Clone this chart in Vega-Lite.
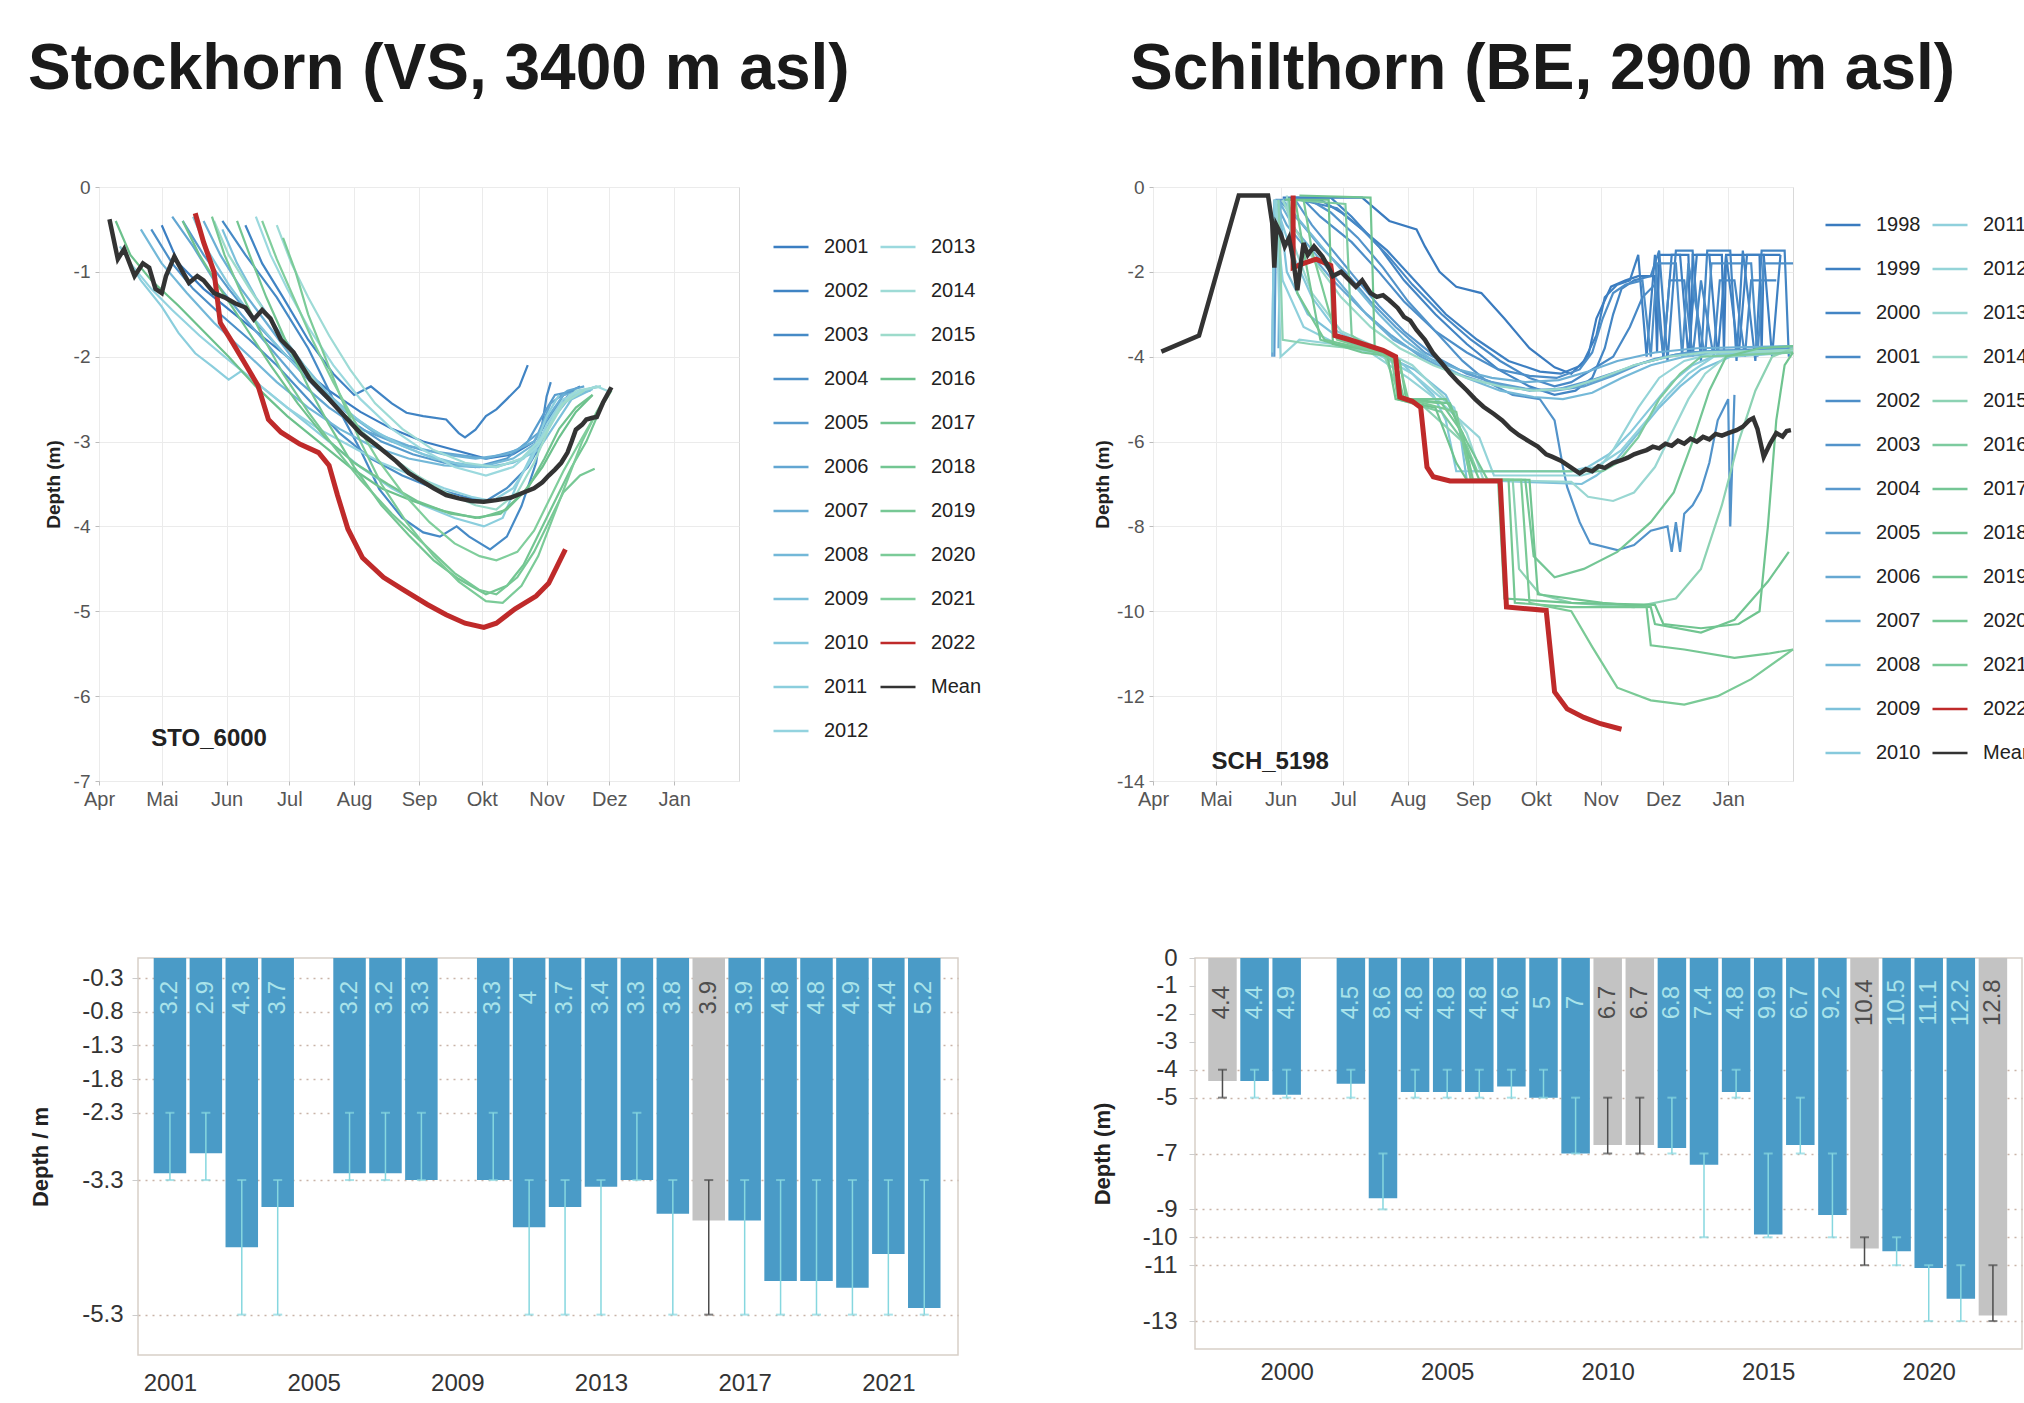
{
"$schema": "https://vega.github.io/schema/vega-lite/v6.json",
"autosize": {"type": "none"},
"padding": {"left": 99, "top": 187, "right": 1925, "bottom": 1216},
"background": "white",
"config": {"font": "Liberation Sans", "axis": {"labelOverlap": false}},
"spacing": 135,
"datasets": {
"sto": [
{"s":"2001","d":30,"v":-0.45},{"s":"2001","d":38,"v":-0.9},{"s":"2001","d":50,"v":-1.2},{"s":"2001","d":65,"v":-1.5},{"s":"2001","d":80,"v":-1.8},{"s":"2001","d":95,"v":-2.1},{"s":"2001","d":110,"v":-2.4},{"s":"2001","d":125,"v":-2.65},{"s":"2001","d":140,"v":-2.85},{"s":"2001","d":155,"v":-3.0},{"s":"2001","d":170,"v":-3.1},{"s":"2001","d":185,"v":-3.2},{"s":"2001","d":198,"v":-3.15},{"s":"2001","d":208,"v":-3.0},{"s":"2001","d":216,"v":-2.7},{"s":"2001","d":222,"v":-2.45},{"s":"2001","d":230,"v":-2.35},
{"s":"2002","d":70,"v":-0.45},{"s":"2002","d":78,"v":-0.9},{"s":"2002","d":88,"v":-1.3},{"s":"2002","d":100,"v":-1.8},{"s":"2002","d":112,"v":-2.2},{"s":"2002","d":122,"v":-2.45},{"s":"2002","d":130,"v":-2.35},{"s":"2002","d":140,"v":-2.55},{"s":"2002","d":147,"v":-2.66},{"s":"2002","d":155,"v":-2.7},{"s":"2002","d":166,"v":-2.74},{"s":"2002","d":172,"v":-2.9},{"s":"2002","d":175,"v":-2.95},{"s":"2002","d":180,"v":-2.86},{"s":"2002","d":185,"v":-2.7},{"s":"2002","d":190,"v":-2.62},{"s":"2002","d":195,"v":-2.5},{"s":"2002","d":201,"v":-2.35},{"s":"2002","d":205,"v":-2.1},
{"s":"2003","d":59,"v":-0.4},{"s":"2003","d":70,"v":-0.8},{"s":"2003","d":85,"v":-1.3},{"s":"2003","d":100,"v":-1.9},{"s":"2003","d":112,"v":-2.5},{"s":"2003","d":125,"v":-3.1},{"s":"2003","d":134,"v":-3.56},{"s":"2003","d":145,"v":-3.9},{"s":"2003","d":155,"v":-4.07},{"s":"2003","d":163,"v":-4.12},{"s":"2003","d":171,"v":-4.0},{"s":"2003","d":177,"v":-4.12},{"s":"2003","d":187,"v":-4.27},{"s":"2003","d":195,"v":-4.12},{"s":"2003","d":202,"v":-3.76},{"s":"2003","d":209,"v":-3.25},{"s":"2003","d":214,"v":-2.47},{"s":"2003","d":216,"v":-2.3},
{"s":"2004","d":25,"v":-0.5},{"s":"2004","d":35,"v":-0.9},{"s":"2004","d":45,"v":-1.2},{"s":"2004","d":58,"v":-1.5},{"s":"2004","d":72,"v":-1.8},{"s":"2004","d":85,"v":-2.1},{"s":"2004","d":100,"v":-2.5},{"s":"2004","d":115,"v":-2.9},{"s":"2004","d":130,"v":-3.2},{"s":"2004","d":145,"v":-3.4},{"s":"2004","d":160,"v":-3.55},{"s":"2004","d":175,"v":-3.65},{"s":"2004","d":185,"v":-3.7},{"s":"2004","d":195,"v":-3.55},{"s":"2004","d":205,"v":-3.3},{"s":"2004","d":212,"v":-3.0},{"s":"2004","d":218,"v":-2.6},{"s":"2004","d":225,"v":-2.45},
{"s":"2005","d":40,"v":-0.4},{"s":"2005","d":50,"v":-0.8},{"s":"2005","d":62,"v":-1.2},{"s":"2005","d":75,"v":-1.6},{"s":"2005","d":90,"v":-2.0},{"s":"2005","d":105,"v":-2.4},{"s":"2005","d":120,"v":-2.75},{"s":"2005","d":135,"v":-3.0},{"s":"2005","d":150,"v":-3.15},{"s":"2005","d":165,"v":-3.25},{"s":"2005","d":180,"v":-3.3},{"s":"2005","d":195,"v":-3.2},{"s":"2005","d":205,"v":-3.0},{"s":"2005","d":212,"v":-2.7},{"s":"2005","d":218,"v":-2.45},{"s":"2005","d":228,"v":-2.4},
{"s":"2006","d":35,"v":-0.35},{"s":"2006","d":45,"v":-0.7},{"s":"2006","d":55,"v":-1.1},{"s":"2006","d":68,"v":-1.5},{"s":"2006","d":82,"v":-1.9},{"s":"2006","d":96,"v":-2.3},{"s":"2006","d":110,"v":-2.6},{"s":"2006","d":125,"v":-2.85},{"s":"2006","d":140,"v":-3.0},{"s":"2006","d":155,"v":-3.1},{"s":"2006","d":170,"v":-3.15},{"s":"2006","d":185,"v":-3.2},{"s":"2006","d":200,"v":-3.1},{"s":"2006","d":210,"v":-2.9},{"s":"2006","d":216,"v":-2.55},{"s":"2006","d":224,"v":-2.4},{"s":"2006","d":232,"v":-2.35},
{"s":"2007","d":50,"v":-0.4},{"s":"2007","d":58,"v":-0.8},{"s":"2007","d":68,"v":-1.2},{"s":"2007","d":80,"v":-1.6},{"s":"2007","d":92,"v":-2.0},{"s":"2007","d":105,"v":-2.35},{"s":"2007","d":118,"v":-2.65},{"s":"2007","d":132,"v":-2.9},{"s":"2007","d":148,"v":-3.05},{"s":"2007","d":165,"v":-3.15},{"s":"2007","d":180,"v":-3.2},{"s":"2007","d":195,"v":-3.15},{"s":"2007","d":208,"v":-3.0},{"s":"2007","d":215,"v":-2.7},{"s":"2007","d":222,"v":-2.45},{"s":"2007","d":235,"v":-2.4},
{"s":"2008","d":20,"v":-0.5},{"s":"2008","d":30,"v":-0.9},{"s":"2008","d":42,"v":-1.25},{"s":"2008","d":55,"v":-1.6},{"s":"2008","d":70,"v":-1.95},{"s":"2008","d":85,"v":-2.3},{"s":"2008","d":100,"v":-2.6},{"s":"2008","d":115,"v":-2.85},{"s":"2008","d":130,"v":-3.05},{"s":"2008","d":148,"v":-3.2},{"s":"2008","d":165,"v":-3.28},{"s":"2008","d":182,"v":-3.3},{"s":"2008","d":198,"v":-3.2},{"s":"2008","d":210,"v":-3.0},{"s":"2008","d":218,"v":-2.7},{"s":"2008","d":226,"v":-2.45},{"s":"2008","d":238,"v":-2.35},
{"s":"2009","d":59,"v":-0.5},{"s":"2009","d":66,"v":-0.9},{"s":"2009","d":75,"v":-1.3},{"s":"2009","d":86,"v":-1.7},{"s":"2009","d":98,"v":-2.1},{"s":"2009","d":110,"v":-2.45},{"s":"2009","d":124,"v":-2.75},{"s":"2009","d":140,"v":-3.0},{"s":"2009","d":155,"v":-3.15},{"s":"2009","d":170,"v":-3.25},{"s":"2009","d":185,"v":-3.3},{"s":"2009","d":198,"v":-3.25},{"s":"2009","d":210,"v":-3.1},{"s":"2009","d":218,"v":-2.8},{"s":"2009","d":226,"v":-2.5},{"s":"2009","d":236,"v":-2.38},
{"s":"2010","d":45,"v":-0.35},{"s":"2010","d":52,"v":-0.75},{"s":"2010","d":62,"v":-1.15},{"s":"2010","d":74,"v":-1.55},{"s":"2010","d":88,"v":-1.95},{"s":"2010","d":102,"v":-2.3},{"s":"2010","d":116,"v":-2.6},{"s":"2010","d":130,"v":-2.85},{"s":"2010","d":145,"v":-3.05},{"s":"2010","d":160,"v":-3.2},{"s":"2010","d":175,"v":-3.28},{"s":"2010","d":190,"v":-3.3},{"s":"2010","d":203,"v":-3.2},{"s":"2010","d":212,"v":-2.95},{"s":"2010","d":220,"v":-2.6},{"s":"2010","d":230,"v":-2.4},{"s":"2010","d":240,"v":-2.35},
{"s":"2011","d":10,"v":-0.7},{"s":"2011","d":20,"v":-1.1},{"s":"2011","d":30,"v":-1.41},{"s":"2011","d":38,"v":-1.72},{"s":"2011","d":46,"v":-1.96},{"s":"2011","d":54,"v":-2.11},{"s":"2011","d":62,"v":-2.27},{"s":"2011","d":68,"v":-2.17},{"s":"2011","d":80,"v":-2.4},{"s":"2011","d":95,"v":-2.7},{"s":"2011","d":110,"v":-3.0},{"s":"2011","d":125,"v":-3.3},{"s":"2011","d":140,"v":-3.55},{"s":"2011","d":155,"v":-3.75},{"s":"2011","d":170,"v":-3.9},{"s":"2011","d":184,"v":-4.0},{"s":"2011","d":193,"v":-3.9},{"s":"2011","d":200,"v":-3.5},{"s":"2011","d":208,"v":-3.1},{"s":"2011","d":214,"v":-2.7},{"s":"2011","d":220,"v":-2.45},
{"s":"2012","d":15,"v":-0.9},{"s":"2012","d":25,"v":-1.2},{"s":"2012","d":35,"v":-1.45},{"s":"2012","d":48,"v":-1.75},{"s":"2012","d":60,"v":-2.0},{"s":"2012","d":75,"v":-2.3},{"s":"2012","d":90,"v":-2.6},{"s":"2012","d":105,"v":-2.85},{"s":"2012","d":120,"v":-3.05},{"s":"2012","d":135,"v":-3.25},{"s":"2012","d":150,"v":-3.4},{"s":"2012","d":165,"v":-3.55},{"s":"2012","d":178,"v":-3.65},{"s":"2012","d":188,"v":-3.7},{"s":"2012","d":198,"v":-3.55},{"s":"2012","d":207,"v":-3.2},{"s":"2012","d":214,"v":-2.8},{"s":"2012","d":222,"v":-2.5},{"s":"2012","d":232,"v":-2.4},
{"s":"2013","d":75,"v":-0.35},{"s":"2013","d":82,"v":-0.8},{"s":"2013","d":90,"v":-1.2},{"s":"2013","d":100,"v":-1.65},{"s":"2013","d":112,"v":-2.1},{"s":"2013","d":125,"v":-2.5},{"s":"2013","d":140,"v":-2.85},{"s":"2013","d":155,"v":-3.1},{"s":"2013","d":170,"v":-3.3},{"s":"2013","d":185,"v":-3.4},{"s":"2013","d":198,"v":-3.3},{"s":"2013","d":210,"v":-3.05},{"s":"2013","d":218,"v":-2.7},{"s":"2013","d":225,"v":-2.45},{"s":"2013","d":238,"v":-2.35},{"s":"2013","d":243,"v":-2.4},
{"s":"2014","d":85,"v":-0.45},{"s":"2014","d":92,"v":-0.9},{"s":"2014","d":100,"v":-1.3},{"s":"2014","d":110,"v":-1.75},{"s":"2014","d":120,"v":-2.15},{"s":"2014","d":132,"v":-2.55},{"s":"2014","d":145,"v":-2.85},{"s":"2014","d":160,"v":-3.1},{"s":"2014","d":175,"v":-3.25},{"s":"2014","d":190,"v":-3.3},{"s":"2014","d":202,"v":-3.2},{"s":"2014","d":212,"v":-2.95},{"s":"2014","d":220,"v":-2.6},{"s":"2014","d":228,"v":-2.4},{"s":"2014","d":240,"v":-2.35},
{"s":"2015","d":55,"v":-0.4},{"s":"2015","d":62,"v":-0.8},{"s":"2015","d":72,"v":-1.2},{"s":"2015","d":84,"v":-1.65},{"s":"2015","d":96,"v":-2.05},{"s":"2015","d":108,"v":-2.45},{"s":"2015","d":122,"v":-2.8},{"s":"2015","d":138,"v":-3.15},{"s":"2015","d":152,"v":-3.4},{"s":"2015","d":166,"v":-3.6},{"s":"2015","d":180,"v":-3.75},{"s":"2015","d":190,"v":-3.8},{"s":"2015","d":200,"v":-3.6},{"s":"2015","d":208,"v":-3.25},{"s":"2015","d":215,"v":-2.85},{"s":"2015","d":222,"v":-2.55},{"s":"2015","d":232,"v":-2.4},
{"s":"2016","d":8,"v":-0.4},{"s":"2016","d":15,"v":-0.8},{"s":"2016","d":25,"v":-1.1},{"s":"2016","d":38,"v":-1.4},{"s":"2016","d":50,"v":-1.7},{"s":"2016","d":62,"v":-2.0},{"s":"2016","d":75,"v":-2.35},{"s":"2016","d":90,"v":-2.7},{"s":"2016","d":105,"v":-3.0},{"s":"2016","d":120,"v":-3.3},{"s":"2016","d":135,"v":-3.55},{"s":"2016","d":150,"v":-3.7},{"s":"2016","d":165,"v":-3.82},{"s":"2016","d":180,"v":-3.9},{"s":"2016","d":192,"v":-3.85},{"s":"2016","d":203,"v":-3.6},{"s":"2016","d":212,"v":-3.3},{"s":"2016","d":220,"v":-2.95},{"s":"2016","d":228,"v":-2.65},{"s":"2016","d":236,"v":-2.45},
{"s":"2017","d":40,"v":-0.4},{"s":"2017","d":48,"v":-0.8},{"s":"2017","d":58,"v":-1.2},{"s":"2017","d":70,"v":-1.65},{"s":"2017","d":82,"v":-2.1},{"s":"2017","d":95,"v":-2.55},{"s":"2017","d":108,"v":-2.95},{"s":"2017","d":122,"v":-3.25},{"s":"2017","d":138,"v":-3.5},{"s":"2017","d":152,"v":-3.7},{"s":"2017","d":168,"v":-3.85},{"s":"2017","d":182,"v":-3.9},{"s":"2017","d":195,"v":-3.8},{"s":"2017","d":205,"v":-3.55},{"s":"2017","d":213,"v":-3.2},{"s":"2017","d":220,"v":-2.85},{"s":"2017","d":228,"v":-2.6},{"s":"2017","d":236,"v":-2.45},
{"s":"2018","d":66,"v":-0.4},{"s":"2018","d":72,"v":-0.8},{"s":"2018","d":80,"v":-1.3},{"s":"2018","d":90,"v":-1.85},{"s":"2018","d":100,"v":-2.35},{"s":"2018","d":110,"v":-2.8},{"s":"2018","d":122,"v":-3.3},{"s":"2018","d":135,"v":-3.75},{"s":"2018","d":148,"v":-4.1},{"s":"2018","d":160,"v":-4.4},{"s":"2018","d":172,"v":-4.62},{"s":"2018","d":185,"v":-4.8},{"s":"2018","d":195,"v":-4.7},{"s":"2018","d":203,"v":-4.45},{"s":"2018","d":210,"v":-4.1},{"s":"2018","d":218,"v":-3.7},{"s":"2018","d":226,"v":-3.3},{"s":"2018","d":233,"v":-3.0},{"s":"2018","d":240,"v":-2.6},{"s":"2018","d":245,"v":-2.4},
{"s":"2019","d":54,"v":-0.35},{"s":"2019","d":60,"v":-0.8},{"s":"2019","d":68,"v":-1.25},{"s":"2019","d":78,"v":-1.75},{"s":"2019","d":88,"v":-2.2},{"s":"2019","d":100,"v":-2.65},{"s":"2019","d":112,"v":-3.05},{"s":"2019","d":125,"v":-3.45},{"s":"2019","d":140,"v":-3.85},{"s":"2019","d":155,"v":-4.2},{"s":"2019","d":170,"v":-4.55},{"s":"2019","d":182,"v":-4.75},{"s":"2019","d":190,"v":-4.8},{"s":"2019","d":200,"v":-4.6},{"s":"2019","d":208,"v":-4.3},{"s":"2019","d":215,"v":-3.95},{"s":"2019","d":222,"v":-3.6},{"s":"2019","d":230,"v":-3.4},{"s":"2019","d":237,"v":-3.32},
{"s":"2020","d":88,"v":-0.6},{"s":"2020","d":94,"v":-1.0},{"s":"2020","d":100,"v":-1.5},{"s":"2020","d":108,"v":-2.0},{"s":"2020","d":116,"v":-2.5},{"s":"2020","d":125,"v":-3.0},{"s":"2020","d":135,"v":-3.5},{"s":"2020","d":147,"v":-3.95},{"s":"2020","d":160,"v":-4.35},{"s":"2020","d":172,"v":-4.65},{"s":"2020","d":185,"v":-4.88},{"s":"2020","d":193,"v":-4.9},{"s":"2020","d":202,"v":-4.7},{"s":"2020","d":210,"v":-4.35},{"s":"2020","d":217,"v":-3.9},{"s":"2020","d":224,"v":-3.45},{"s":"2020","d":231,"v":-3.0},{"s":"2020","d":238,"v":-2.65},{"s":"2020","d":244,"v":-2.4},
{"s":"2021","d":78,"v":-0.4},{"s":"2021","d":85,"v":-0.85},{"s":"2021","d":93,"v":-1.3},{"s":"2021","d":102,"v":-1.8},{"s":"2021","d":112,"v":-2.3},{"s":"2021","d":122,"v":-2.75},{"s":"2021","d":133,"v":-3.2},{"s":"2021","d":145,"v":-3.6},{"s":"2021","d":158,"v":-3.95},{"s":"2021","d":170,"v":-4.2},{"s":"2021","d":182,"v":-4.35},{"s":"2021","d":190,"v":-4.4},{"s":"2021","d":200,"v":-4.3},{"s":"2021","d":208,"v":-4.05},{"s":"2021","d":215,"v":-3.7},{"s":"2021","d":222,"v":-3.35},{"s":"2021","d":230,"v":-3.0},{"s":"2021","d":237,"v":-2.7},{"s":"2021","d":243,"v":-2.45},
{"s":"2022","d":46,"v":-0.31},{"s":"2022","d":50,"v":-0.65},{"s":"2022","d":55,"v":-1.0},{"s":"2022","d":58,"v":-1.6},{"s":"2022","d":64,"v":-1.84},{"s":"2022","d":70,"v":-2.09},{"s":"2022","d":76,"v":-2.34},{"s":"2022","d":81,"v":-2.74},{"s":"2022","d":87,"v":-2.89},{"s":"2022","d":96,"v":-3.03},{"s":"2022","d":105,"v":-3.13},{"s":"2022","d":110,"v":-3.28},{"s":"2022","d":114,"v":-3.63},{"s":"2022","d":119,"v":-4.03},{"s":"2022","d":126,"v":-4.37},{"s":"2022","d":136,"v":-4.6},{"s":"2022","d":145,"v":-4.74},{"s":"2022","d":157,"v":-4.92},{"s":"2022","d":166,"v":-5.04},{"s":"2022","d":175,"v":-5.14},{"s":"2022","d":184,"v":-5.19},{"s":"2022","d":190,"v":-5.14},{"s":"2022","d":199,"v":-4.97},{"s":"2022","d":209,"v":-4.82},{"s":"2022","d":215,"v":-4.67},{"s":"2022","d":219,"v":-4.47},{"s":"2022","d":223,"v":-4.27},
{"s":"Mean","d":5,"v":-0.38},{"s":"Mean","d":9,"v":-0.85},{"s":"Mean","d":12,"v":-0.73},{"s":"Mean","d":17,"v":-1.05},{"s":"Mean","d":21,"v":-0.9},{"s":"Mean","d":24,"v":-0.95},{"s":"Mean","d":27,"v":-1.2},{"s":"Mean","d":30,"v":-1.25},{"s":"Mean","d":32,"v":-1.05},{"s":"Mean","d":36,"v":-0.82},{"s":"Mean","d":40,"v":-1.0},{"s":"Mean","d":43,"v":-1.13},{"s":"Mean","d":47,"v":-1.05},{"s":"Mean","d":50,"v":-1.1},{"s":"Mean","d":55,"v":-1.25},{"s":"Mean","d":60,"v":-1.3},{"s":"Mean","d":65,"v":-1.37},{"s":"Mean","d":70,"v":-1.42},{"s":"Mean","d":74,"v":-1.56},{"s":"Mean","d":78,"v":-1.45},{"s":"Mean","d":82,"v":-1.55},{"s":"Mean","d":87,"v":-1.8},{"s":"Mean","d":93,"v":-1.95},{"s":"Mean","d":101,"v":-2.27},{"s":"Mean","d":110,"v":-2.5},{"s":"Mean","d":117,"v":-2.69},{"s":"Mean","d":125,"v":-2.9},{"s":"Mean","d":133,"v":-3.05},{"s":"Mean","d":142,"v":-3.23},{"s":"Mean","d":148,"v":-3.37},{"s":"Mean","d":154,"v":-3.46},{"s":"Mean","d":160,"v":-3.55},{"s":"Mean","d":166,"v":-3.63},{"s":"Mean","d":172,"v":-3.67},{"s":"Mean","d":178,"v":-3.7},{"s":"Mean","d":184,"v":-3.71},{"s":"Mean","d":190,"v":-3.69},{"s":"Mean","d":197,"v":-3.66},{"s":"Mean","d":203,"v":-3.6},{"s":"Mean","d":208,"v":-3.55},{"s":"Mean","d":212,"v":-3.48},{"s":"Mean","d":215,"v":-3.4},{"s":"Mean","d":218,"v":-3.33},{"s":"Mean","d":221,"v":-3.25},{"s":"Mean","d":224,"v":-3.13},{"s":"Mean","d":226,"v":-3.0},{"s":"Mean","d":228,"v":-2.86},{"s":"Mean","d":231,"v":-2.8},{"s":"Mean","d":233,"v":-2.74},{"s":"Mean","d":236,"v":-2.72},{"s":"Mean","d":238,"v":-2.71},{"s":"Mean","d":241,"v":-2.54},{"s":"Mean","d":243,"v":-2.45},{"s":"Mean","d":245,"v":-2.36}
],
"sch": [
{"s":"1998","d":62,"v":-0.25},{"s":"1998","d":100,"v":-0.25},{"s":"1998","d":113,"v":-0.8},{"s":"1998","d":126,"v":-1.0},{"s":"1998","d":130,"v":-1.4},{"s":"1998","d":137,"v":-2.0},{"s":"1998","d":145,"v":-2.35},{"s":"1998","d":157,"v":-2.5},{"s":"1998","d":168,"v":-3.1},{"s":"1998","d":180,"v":-3.8},{"s":"1998","d":192,"v":-4.25},{"s":"1998","d":200,"v":-4.4},{"s":"1998","d":208,"v":-4.0},{"s":"1998","d":212,"v":-3.1},{"s":"1998","d":219,"v":-2.35},{"s":"1998","d":226,"v":-2.2},{"s":"1998","d":232,"v":-2.1},{"s":"1998","d":240,"v":-2.1},{"s":"1998","d":241,"v":-3.9},{"s":"1998","d":242,"v":-1.6},{"s":"1998","d":256,"v":-1.6},{"s":"1998","d":257,"v":-3.9},{"s":"1998","d":258,"v":-1.6},{"s":"1998","d":272,"v":-1.6},{"s":"1998","d":273,"v":-3.9},{"s":"1998","d":274,"v":-1.6},{"s":"1998","d":290,"v":-1.6},{"s":"1998","d":291,"v":-3.9},{"s":"1998","d":292,"v":-1.6},{"s":"1998","d":300,"v":-1.6},
{"s":"1999","d":64,"v":-0.3},{"s":"1999","d":80,"v":-0.3},{"s":"1999","d":90,"v":-0.6},{"s":"1999","d":100,"v":-1.0},{"s":"1999","d":112,"v":-1.5},{"s":"1999","d":125,"v":-2.2},{"s":"1999","d":140,"v":-3.0},{"s":"1999","d":155,"v":-3.6},{"s":"1999","d":170,"v":-4.1},{"s":"1999","d":185,"v":-4.35},{"s":"1999","d":195,"v":-4.4},{"s":"1999","d":205,"v":-4.2},{"s":"1999","d":212,"v":-3.5},{"s":"1999","d":216,"v":-2.6},{"s":"1999","d":222,"v":-2.3},{"s":"1999","d":228,"v":-2.2},{"s":"1999","d":232,"v":-1.6},{"s":"1999","d":236,"v":-4.0},{"s":"1999","d":240,"v":-1.6},{"s":"1999","d":244,"v":-4.0},{"s":"1999","d":248,"v":-1.6},{"s":"1999","d":252,"v":-1.6},{"s":"1999","d":256,"v":-4.0},{"s":"1999","d":260,"v":-1.6},{"s":"1999","d":266,"v":-1.6},{"s":"1999","d":270,"v":-4.0},{"s":"1999","d":274,"v":-1.6},{"s":"1999","d":280,"v":-4.0},{"s":"1999","d":284,"v":-1.6},{"s":"1999","d":292,"v":-1.6},{"s":"1999","d":296,"v":-4.0},{"s":"1999","d":300,"v":-1.6},
{"s":"2000","d":66,"v":-0.25},{"s":"2000","d":85,"v":-0.25},{"s":"2000","d":95,"v":-0.7},{"s":"2000","d":108,"v":-1.4},{"s":"2000","d":120,"v":-2.2},{"s":"2000","d":135,"v":-3.0},{"s":"2000","d":150,"v":-3.7},{"s":"2000","d":165,"v":-4.3},{"s":"2000","d":180,"v":-4.7},{"s":"2000","d":192,"v":-4.9},{"s":"2000","d":202,"v":-4.8},{"s":"2000","d":210,"v":-4.5},{"s":"2000","d":216,"v":-3.8},{"s":"2000","d":220,"v":-3.0},{"s":"2000","d":224,"v":-2.4},{"s":"2000","d":230,"v":-2.2},{"s":"2000","d":238,"v":-2.1},{"s":"2000","d":242,"v":-1.5},{"s":"2000","d":246,"v":-4.1},{"s":"2000","d":250,"v":-1.5},{"s":"2000","d":258,"v":-1.5},{"s":"2000","d":262,"v":-4.1},{"s":"2000","d":265,"v":-1.5},{"s":"2000","d":276,"v":-1.5},{"s":"2000","d":279,"v":-4.1},{"s":"2000","d":282,"v":-1.5},{"s":"2000","d":288,"v":-4.1},{"s":"2000","d":291,"v":-1.5},{"s":"2000","d":302,"v":-1.5},{"s":"2000","d":304,"v":-4.0},
{"s":"2001","d":70,"v":-0.3},{"s":"2001","d":88,"v":-0.5},{"s":"2001","d":100,"v":-1.0},{"s":"2001","d":112,"v":-1.6},{"s":"2001","d":124,"v":-2.3},{"s":"2001","d":138,"v":-3.0},{"s":"2001","d":152,"v":-3.6},{"s":"2001","d":166,"v":-4.1},{"s":"2001","d":180,"v":-4.5},{"s":"2001","d":192,"v":-4.7},{"s":"2001","d":200,"v":-4.6},{"s":"2001","d":210,"v":-4.3},{"s":"2001","d":220,"v":-4.0},{"s":"2001","d":228,"v":-3.3},{"s":"2001","d":234,"v":-2.6},{"s":"2001","d":240,"v":-2.3},{"s":"2001","d":244,"v":-4.0},{"s":"2001","d":247,"v":-2.2},{"s":"2001","d":254,"v":-2.2},{"s":"2001","d":258,"v":-4.0},{"s":"2001","d":262,"v":-2.2},{"s":"2001","d":268,"v":-4.0},{"s":"2001","d":271,"v":-2.2},{"s":"2001","d":278,"v":-2.2},{"s":"2001","d":283,"v":-4.0},{"s":"2001","d":286,"v":-2.2},{"s":"2001","d":298,"v":-2.2},
{"s":"2002","d":62,"v":-0.3},{"s":"2002","d":72,"v":-0.3},{"s":"2002","d":80,"v":-0.7},{"s":"2002","d":95,"v":-1.3},{"s":"2002","d":108,"v":-2.0},{"s":"2002","d":120,"v":-2.7},{"s":"2002","d":135,"v":-3.4},{"s":"2002","d":150,"v":-3.9},{"s":"2002","d":165,"v":-4.3},{"s":"2002","d":180,"v":-4.45},{"s":"2002","d":193,"v":-4.5},{"s":"2002","d":204,"v":-4.3},{"s":"2002","d":210,"v":-3.9},{"s":"2002","d":215,"v":-3.1},{"s":"2002","d":220,"v":-2.5},{"s":"2002","d":226,"v":-2.3},{"s":"2002","d":234,"v":-2.2},{"s":"2002","d":238,"v":-4.0},{"s":"2002","d":241,"v":-1.8},{"s":"2002","d":250,"v":-1.8},{"s":"2002","d":253,"v":-4.0},{"s":"2002","d":256,"v":-1.8},{"s":"2002","d":264,"v":-4.0},{"s":"2002","d":267,"v":-1.8},{"s":"2002","d":286,"v":-1.8},{"s":"2002","d":289,"v":-4.0},{"s":"2002","d":292,"v":-1.8},{"s":"2002","d":306,"v":-1.8},
{"s":"2003","d":75,"v":-0.3},{"s":"2003","d":85,"v":-0.6},{"s":"2003","d":98,"v":-1.2},{"s":"2003","d":110,"v":-1.9},{"s":"2003","d":122,"v":-2.7},{"s":"2003","d":135,"v":-3.4},{"s":"2003","d":148,"v":-4.1},{"s":"2003","d":160,"v":-4.6},{"s":"2003","d":172,"v":-4.9},{"s":"2003","d":185,"v":-5.0},{"s":"2003","d":192,"v":-5.5},{"s":"2003","d":196,"v":-6.6},{"s":"2003","d":198,"v":-7.07},{"s":"2003","d":204,"v":-7.9},{"s":"2003","d":209,"v":-8.4},{"s":"2003","d":222,"v":-8.56},{"s":"2003","d":230,"v":-8.44},{"s":"2003","d":238,"v":-8.1},{"s":"2003","d":246,"v":-8.0},{"s":"2003","d":248,"v":-8.6},{"s":"2003","d":250,"v":-7.9},{"s":"2003","d":252,"v":-8.6},{"s":"2003","d":254,"v":-7.7},{"s":"2003","d":258,"v":-7.5},{"s":"2003","d":262,"v":-7.15},{"s":"2003","d":266,"v":-6.5},{"s":"2003","d":270,"v":-5.5},{"s":"2003","d":275,"v":-5.0},{"s":"2003","d":276,"v":-8.0},{"s":"2003","d":278,"v":-4.9},
{"s":"2004","d":58,"v":-4.0},{"s":"2004","d":59,"v":-0.3},{"s":"2004","d":68,"v":-0.3},{"s":"2004","d":76,"v":-0.9},{"s":"2004","d":86,"v":-1.5},{"s":"2004","d":96,"v":-2.1},{"s":"2004","d":108,"v":-2.8},{"s":"2004","d":120,"v":-3.4},{"s":"2004","d":135,"v":-4.0},{"s":"2004","d":150,"v":-4.4},{"s":"2004","d":165,"v":-4.65},{"s":"2004","d":180,"v":-4.8},{"s":"2004","d":195,"v":-4.75},{"s":"2004","d":210,"v":-4.55},{"s":"2004","d":225,"v":-4.3},{"s":"2004","d":240,"v":-4.05},{"s":"2004","d":255,"v":-3.9},{"s":"2004","d":275,"v":-3.85},{"s":"2004","d":306,"v":-3.8},
{"s":"2005","d":60,"v":-0.3},{"s":"2005","d":70,"v":-0.8},{"s":"2005","d":80,"v":-1.4},{"s":"2005","d":92,"v":-2.0},{"s":"2005","d":104,"v":-2.7},{"s":"2005","d":116,"v":-3.3},{"s":"2005","d":130,"v":-3.9},{"s":"2005","d":146,"v":-4.3},{"s":"2005","d":162,"v":-4.6},{"s":"2005","d":178,"v":-4.75},{"s":"2005","d":192,"v":-4.8},{"s":"2005","d":206,"v":-4.7},{"s":"2005","d":220,"v":-4.45},{"s":"2005","d":234,"v":-4.15},{"s":"2005","d":250,"v":-3.95},{"s":"2005","d":270,"v":-3.85},{"s":"2005","d":306,"v":-3.9},
{"s":"2006","d":57,"v":-4.0},{"s":"2006","d":58,"v":-0.3},{"s":"2006","d":64,"v":-0.9},{"s":"2006","d":74,"v":-1.5},{"s":"2006","d":86,"v":-2.2},{"s":"2006","d":100,"v":-2.9},{"s":"2006","d":114,"v":-3.5},{"s":"2006","d":128,"v":-4.0},{"s":"2006","d":142,"v":-4.35},{"s":"2006","d":158,"v":-4.6},{"s":"2006","d":174,"v":-4.75},{"s":"2006","d":188,"v":-4.8},{"s":"2006","d":202,"v":-4.7},{"s":"2006","d":216,"v":-4.5},{"s":"2006","d":230,"v":-4.2},{"s":"2006","d":246,"v":-4.0},{"s":"2006","d":262,"v":-3.9},{"s":"2006","d":306,"v":-3.85},
{"s":"2007","d":60,"v":-3.8},{"s":"2007","d":61,"v":-0.4},{"s":"2007","d":68,"v":-1.0},{"s":"2007","d":78,"v":-1.6},{"s":"2007","d":90,"v":-2.3},{"s":"2007","d":102,"v":-3.0},{"s":"2007","d":115,"v":-3.6},{"s":"2007","d":130,"v":-4.0},{"s":"2007","d":146,"v":-4.3},{"s":"2007","d":162,"v":-4.5},{"s":"2007","d":178,"v":-4.6},{"s":"2007","d":194,"v":-4.55},{"s":"2007","d":208,"v":-4.35},{"s":"2007","d":222,"v":-4.1},{"s":"2007","d":240,"v":-3.9},{"s":"2007","d":260,"v":-3.8},{"s":"2007","d":306,"v":-3.75},
{"s":"2008","d":62,"v":-0.3},{"s":"2008","d":72,"v":-0.9},{"s":"2008","d":84,"v":-1.6},{"s":"2008","d":96,"v":-2.3},{"s":"2008","d":108,"v":-3.0},{"s":"2008","d":120,"v":-3.6},{"s":"2008","d":134,"v":-4.1},{"s":"2008","d":150,"v":-4.5},{"s":"2008","d":166,"v":-4.8},{"s":"2008","d":182,"v":-4.95},{"s":"2008","d":196,"v":-5.0},{"s":"2008","d":210,"v":-4.85},{"s":"2008","d":224,"v":-4.5},{"s":"2008","d":238,"v":-4.2},{"s":"2008","d":254,"v":-4.0},{"s":"2008","d":272,"v":-3.9},{"s":"2008","d":306,"v":-3.85},
{"s":"2009","d":60,"v":-0.3},{"s":"2009","d":64,"v":-2.0},{"s":"2009","d":74,"v":-3.0},{"s":"2009","d":90,"v":-3.6},{"s":"2009","d":108,"v":-3.9},{"s":"2009","d":125,"v":-4.3},{"s":"2009","d":140,"v":-4.9},{"s":"2009","d":146,"v":-5.5},{"s":"2009","d":150,"v":-6.9},{"s":"2009","d":205,"v":-7.0},{"s":"2009","d":212,"v":-6.8},{"s":"2009","d":222,"v":-6.4},{"s":"2009","d":232,"v":-5.8},{"s":"2009","d":242,"v":-5.2},{"s":"2009","d":252,"v":-4.7},{"s":"2009","d":262,"v":-4.3},{"s":"2009","d":276,"v":-4.0},{"s":"2009","d":306,"v":-3.9},
{"s":"2010","d":57,"v":-3.9},{"s":"2010","d":58,"v":-0.3},{"s":"2010","d":66,"v":-1.5},{"s":"2010","d":76,"v":-2.6},{"s":"2010","d":88,"v":-3.4},{"s":"2010","d":104,"v":-3.8},{"s":"2010","d":120,"v":-4.2},{"s":"2010","d":134,"v":-4.9},{"s":"2010","d":140,"v":-5.5},{"s":"2010","d":145,"v":-6.7},{"s":"2010","d":200,"v":-6.7},{"s":"2010","d":208,"v":-6.6},{"s":"2010","d":218,"v":-6.3},{"s":"2010","d":228,"v":-5.8},{"s":"2010","d":238,"v":-5.2},{"s":"2010","d":248,"v":-4.6},{"s":"2010","d":258,"v":-4.2},{"s":"2010","d":270,"v":-3.95},{"s":"2010","d":306,"v":-3.85},
{"s":"2011","d":58,"v":-0.3},{"s":"2011","d":62,"v":-2.2},{"s":"2011","d":72,"v":-3.3},{"s":"2011","d":88,"v":-3.7},{"s":"2011","d":106,"v":-3.9},{"s":"2011","d":124,"v":-4.4},{"s":"2011","d":136,"v":-4.9},{"s":"2011","d":144,"v":-5.2},{"s":"2011","d":152,"v":-6.7},{"s":"2011","d":200,"v":-6.7},{"s":"2011","d":212,"v":-6.6},{"s":"2011","d":224,"v":-6.2},{"s":"2011","d":236,"v":-5.5},{"s":"2011","d":246,"v":-4.9},{"s":"2011","d":256,"v":-4.4},{"s":"2011","d":268,"v":-4.0},{"s":"2011","d":306,"v":-3.9},
{"s":"2012","d":59,"v":-0.3},{"s":"2012","d":61,"v":-4.0},{"s":"2012","d":70,"v":-3.6},{"s":"2012","d":86,"v":-3.7},{"s":"2012","d":104,"v":-3.9},{"s":"2012","d":122,"v":-4.5},{"s":"2012","d":138,"v":-5.1},{"s":"2012","d":156,"v":-5.9},{"s":"2012","d":163,"v":-6.8},{"s":"2012","d":205,"v":-6.8},{"s":"2012","d":212,"v":-6.7},{"s":"2012","d":220,"v":-6.2},{"s":"2012","d":232,"v":-5.2},{"s":"2012","d":242,"v":-4.5},{"s":"2012","d":254,"v":-4.1},{"s":"2012","d":270,"v":-3.9},{"s":"2012","d":306,"v":-3.85},
{"s":"2013","d":64,"v":-0.2},{"s":"2013","d":66,"v":-1.2},{"s":"2013","d":76,"v":-2.5},{"s":"2013","d":90,"v":-3.4},{"s":"2013","d":108,"v":-3.8},{"s":"2013","d":124,"v":-4.2},{"s":"2013","d":140,"v":-5.0},{"s":"2013","d":150,"v":-5.8},{"s":"2013","d":158,"v":-6.9},{"s":"2013","d":200,"v":-6.95},{"s":"2013","d":208,"v":-7.3},{"s":"2013","d":220,"v":-7.4},{"s":"2013","d":230,"v":-7.2},{"s":"2013","d":240,"v":-6.6},{"s":"2013","d":248,"v":-5.8},{"s":"2013","d":256,"v":-5.0},{"s":"2013","d":264,"v":-4.4},{"s":"2013","d":274,"v":-4.0},{"s":"2013","d":306,"v":-3.85},
{"s":"2014","d":62,"v":-0.3},{"s":"2014","d":68,"v":-1.0},{"s":"2014","d":78,"v":-1.8},{"s":"2014","d":90,"v":-2.6},{"s":"2014","d":104,"v":-3.3},{"s":"2014","d":118,"v":-3.8},{"s":"2014","d":134,"v":-4.2},{"s":"2014","d":150,"v":-4.5},{"s":"2014","d":166,"v":-4.7},{"s":"2014","d":182,"v":-4.8},{"s":"2014","d":198,"v":-4.75},{"s":"2014","d":214,"v":-4.5},{"s":"2014","d":230,"v":-4.2},{"s":"2014","d":246,"v":-4.0},{"s":"2014","d":264,"v":-3.9},{"s":"2014","d":306,"v":-3.85},
{"s":"2015","d":60,"v":-0.3},{"s":"2015","d":62,"v":-3.6},{"s":"2015","d":75,"v":-3.7},{"s":"2015","d":95,"v":-3.8},{"s":"2015","d":110,"v":-3.9},{"s":"2015","d":118,"v":-4.9},{"s":"2015","d":130,"v":-5.2},{"s":"2015","d":148,"v":-6.0},{"s":"2015","d":152,"v":-6.9},{"s":"2015","d":172,"v":-6.9},{"s":"2015","d":175,"v":-9.0},{"s":"2015","d":185,"v":-9.6},{"s":"2015","d":200,"v":-9.8},{"s":"2015","d":230,"v":-9.9},{"s":"2015","d":250,"v":-9.7},{"s":"2015","d":262,"v":-9.0},{"s":"2015","d":272,"v":-7.5},{"s":"2015","d":280,"v":-6.0},{"s":"2015","d":288,"v":-4.8},{"s":"2015","d":296,"v":-4.0},{"s":"2015","d":306,"v":-3.8},
{"s":"2016","d":66,"v":-0.3},{"s":"2016","d":92,"v":-0.4},{"s":"2016","d":95,"v":-3.5},{"s":"2016","d":104,"v":-3.8},{"s":"2016","d":114,"v":-4.0},{"s":"2016","d":117,"v":-5.0},{"s":"2016","d":138,"v":-5.3},{"s":"2016","d":150,"v":-6.1},{"s":"2016","d":155,"v":-6.7},{"s":"2016","d":215,"v":-6.7},{"s":"2016","d":222,"v":-6.5},{"s":"2016","d":232,"v":-5.9},{"s":"2016","d":242,"v":-5.0},{"s":"2016","d":252,"v":-4.4},{"s":"2016","d":262,"v":-4.0},{"s":"2016","d":306,"v":-3.9},
{"s":"2017","d":68,"v":-0.3},{"s":"2017","d":72,"v":-1.5},{"s":"2017","d":80,"v":-3.6},{"s":"2017","d":100,"v":-3.9},{"s":"2017","d":115,"v":-4.0},{"s":"2017","d":120,"v":-5.0},{"s":"2017","d":140,"v":-5.0},{"s":"2017","d":150,"v":-6.0},{"s":"2017","d":160,"v":-6.9},{"s":"2017","d":178,"v":-6.9},{"s":"2017","d":182,"v":-8.7},{"s":"2017","d":192,"v":-9.2},{"s":"2017","d":206,"v":-9.0},{"s":"2017","d":222,"v":-8.6},{"s":"2017","d":238,"v":-7.9},{"s":"2017","d":249,"v":-7.2},{"s":"2017","d":258,"v":-6.0},{"s":"2017","d":266,"v":-4.8},{"s":"2017","d":274,"v":-4.0},{"s":"2017","d":290,"v":-3.8},{"s":"2017","d":306,"v":-3.75},
{"s":"2018","d":63,"v":-0.3},{"s":"2018","d":84,"v":-0.3},{"s":"2018","d":86,"v":-3.7},{"s":"2018","d":98,"v":-3.8},{"s":"2018","d":112,"v":-3.95},{"s":"2018","d":116,"v":-5.0},{"s":"2018","d":135,"v":-5.2},{"s":"2018","d":145,"v":-6.5},{"s":"2018","d":150,"v":-6.9},{"s":"2018","d":165,"v":-6.9},{"s":"2018","d":168,"v":-9.7},{"s":"2018","d":200,"v":-9.8},{"s":"2018","d":240,"v":-9.85},{"s":"2018","d":244,"v":-10.3},{"s":"2018","d":262,"v":-10.4},{"s":"2018","d":280,"v":-10.3},{"s":"2018","d":290,"v":-10.0},{"s":"2018","d":294,"v":-8.0},{"s":"2018","d":298,"v":-5.5},{"s":"2018","d":302,"v":-4.2},{"s":"2018","d":306,"v":-3.9},
{"s":"2019","d":70,"v":-0.2},{"s":"2019","d":104,"v":-0.25},{"s":"2019","d":106,"v":-3.8},{"s":"2019","d":118,"v":-4.1},{"s":"2019","d":121,"v":-5.0},{"s":"2019","d":142,"v":-5.1},{"s":"2019","d":150,"v":-6.2},{"s":"2019","d":156,"v":-6.9},{"s":"2019","d":180,"v":-6.9},{"s":"2019","d":184,"v":-9.6},{"s":"2019","d":215,"v":-9.8},{"s":"2019","d":238,"v":-9.9},{"s":"2019","d":240,"v":-10.3},{"s":"2019","d":262,"v":-10.5},{"s":"2019","d":278,"v":-10.2},{"s":"2019","d":294,"v":-9.3},{"s":"2019","d":304,"v":-8.6},
{"s":"2020","d":65,"v":-0.25},{"s":"2020","d":69,"v":-2.5},{"s":"2020","d":82,"v":-3.6},{"s":"2020","d":100,"v":-3.8},{"s":"2020","d":116,"v":-4.0},{"s":"2020","d":119,"v":-5.0},{"s":"2020","d":138,"v":-5.1},{"s":"2020","d":148,"v":-5.8},{"s":"2020","d":153,"v":-6.9},{"s":"2020","d":170,"v":-6.9},{"s":"2020","d":173,"v":-9.8},{"s":"2020","d":200,"v":-9.9},{"s":"2020","d":236,"v":-9.9},{"s":"2020","d":238,"v":-10.8},{"s":"2020","d":254,"v":-10.9},{"s":"2020","d":278,"v":-11.1},{"s":"2020","d":294,"v":-11.0},{"s":"2020","d":306,"v":-10.9},
{"s":"2021","d":72,"v":-0.3},{"s":"2021","d":76,"v":-1.5},{"s":"2021","d":88,"v":-3.6},{"s":"2021","d":108,"v":-3.9},{"s":"2021","d":118,"v":-4.2},{"s":"2021","d":122,"v":-5.0},{"s":"2021","d":145,"v":-5.3},{"s":"2021","d":152,"v":-6.9},{"s":"2021","d":176,"v":-6.9},{"s":"2021","d":180,"v":-9.8},{"s":"2021","d":200,"v":-10.0},{"s":"2021","d":210,"v":-10.84},{"s":"2021","d":222,"v":-11.8},{"s":"2021","d":238,"v":-12.1},{"s":"2021","d":254,"v":-12.2},{"s":"2021","d":270,"v":-12.0},{"s":"2021","d":286,"v":-11.6},{"s":"2021","d":306,"v":-10.9},
{"s":"2022","d":67,"v":-0.2},{"s":"2022","d":67,"v":-1.9},{"s":"2022","d":72,"v":-1.8},{"s":"2022","d":78,"v":-1.7},{"s":"2022","d":85,"v":-1.85},{"s":"2022","d":86,"v":-2.2},{"s":"2022","d":87,"v":-3.5},{"s":"2022","d":94,"v":-3.6},{"s":"2022","d":110,"v":-3.85},{"s":"2022","d":116,"v":-4.0},{"s":"2022","d":118,"v":-4.95},{"s":"2022","d":124,"v":-5.05},{"s":"2022","d":128,"v":-5.2},{"s":"2022","d":131,"v":-6.6},{"s":"2022","d":134,"v":-6.83},{"s":"2022","d":142,"v":-6.93},{"s":"2022","d":166,"v":-6.93},{"s":"2022","d":169,"v":-9.9},{"s":"2022","d":188,"v":-9.98},{"s":"2022","d":192,"v":-11.9},{"s":"2022","d":198,"v":-12.3},{"s":"2022","d":206,"v":-12.5},{"s":"2022","d":214,"v":-12.65},{"s":"2022","d":224,"v":-12.78},
{"s":"Mean","d":4,"v":-3.88},{"s":"Mean","d":22,"v":-3.5},{"s":"Mean","d":41,"v":-0.2},{"s":"Mean","d":55,"v":-0.2},{"s":"Mean","d":57,"v":-0.85},{"s":"Mean","d":58,"v":-1.9},{"s":"Mean","d":59,"v":-0.9},{"s":"Mean","d":61,"v":-1.1},{"s":"Mean","d":63,"v":-1.4},{"s":"Mean","d":65,"v":-1.2},{"s":"Mean","d":67,"v":-1.7},{"s":"Mean","d":69,"v":-2.43},{"s":"Mean","d":72,"v":-1.32},{"s":"Mean","d":74,"v":-1.6},{"s":"Mean","d":77,"v":-1.4},{"s":"Mean","d":81,"v":-1.64},{"s":"Mean","d":84,"v":-1.9},{"s":"Mean","d":86,"v":-2.1},{"s":"Mean","d":90,"v":-2.0},{"s":"Mean","d":94,"v":-2.2},{"s":"Mean","d":97,"v":-2.35},{"s":"Mean","d":100,"v":-2.2},{"s":"Mean","d":104,"v":-2.5},{"s":"Mean","d":107,"v":-2.59},{"s":"Mean","d":110,"v":-2.55},{"s":"Mean","d":113,"v":-2.67},{"s":"Mean","d":117,"v":-2.85},{"s":"Mean","d":120,"v":-3.06},{"s":"Mean","d":123,"v":-3.15},{"s":"Mean","d":126,"v":-3.37},{"s":"Mean","d":130,"v":-3.6},{"s":"Mean","d":134,"v":-3.92},{"s":"Mean","d":138,"v":-4.15},{"s":"Mean","d":142,"v":-4.39},{"s":"Mean","d":146,"v":-4.6},{"s":"Mean","d":150,"v":-4.79},{"s":"Mean","d":154,"v":-5.0},{"s":"Mean","d":158,"v":-5.18},{"s":"Mean","d":163,"v":-5.35},{"s":"Mean","d":167,"v":-5.5},{"s":"Mean","d":171,"v":-5.7},{"s":"Mean","d":175,"v":-5.85},{"s":"Mean","d":180,"v":-6.0},{"s":"Mean","d":184,"v":-6.12},{"s":"Mean","d":188,"v":-6.3},{"s":"Mean","d":191,"v":-6.36},{"s":"Mean","d":195,"v":-6.45},{"s":"Mean","d":198,"v":-6.55},{"s":"Mean","d":201,"v":-6.65},{"s":"Mean","d":204,"v":-6.75},{"s":"Mean","d":207,"v":-6.65},{"s":"Mean","d":210,"v":-6.7},{"s":"Mean","d":213,"v":-6.58},{"s":"Mean","d":216,"v":-6.62},{"s":"Mean","d":220,"v":-6.5},{"s":"Mean","d":224,"v":-6.44},{"s":"Mean","d":227,"v":-6.38},{"s":"Mean","d":230,"v":-6.3},{"s":"Mean","d":233,"v":-6.25},{"s":"Mean","d":236,"v":-6.2},{"s":"Mean","d":239,"v":-6.12},{"s":"Mean","d":242,"v":-6.16},{"s":"Mean","d":245,"v":-6.05},{"s":"Mean","d":248,"v":-6.1},{"s":"Mean","d":251,"v":-5.98},{"s":"Mean","d":254,"v":-6.05},{"s":"Mean","d":257,"v":-5.93},{"s":"Mean","d":260,"v":-6.0},{"s":"Mean","d":263,"v":-5.89},{"s":"Mean","d":266,"v":-5.95},{"s":"Mean","d":269,"v":-5.82},{"s":"Mean","d":272,"v":-5.86},{"s":"Mean","d":275,"v":-5.8},{"s":"Mean","d":279,"v":-5.73},{"s":"Mean","d":282,"v":-5.65},{"s":"Mean","d":285,"v":-5.5},{"s":"Mean","d":287,"v":-5.45},{"s":"Mean","d":289,"v":-5.7},{"s":"Mean","d":292,"v":-6.36},{"s":"Mean","d":295,"v":-6.05},{"s":"Mean","d":298,"v":-5.8},{"s":"Mean","d":301,"v":-5.88},{"s":"Mean","d":303,"v":-5.75},{"s":"Mean","d":305,"v":-5.73}
],
"stoBar": [
{"yr":2001,"v":-3.2,"t":"3.2","lo":-2.3,"hi":-3.3,"k":"b"},
{"yr":2002,"v":-2.9,"t":"2.9","lo":-2.3,"hi":-3.3,"k":"b"},
{"yr":2003,"v":-4.3,"t":"4.3","lo":-3.3,"hi":-5.3,"k":"b"},
{"yr":2004,"v":-3.7,"t":"3.7","lo":-3.3,"hi":-5.3,"k":"b"},
{"yr":2006,"v":-3.2,"t":"3.2","lo":-2.3,"hi":-3.3,"k":"b"},
{"yr":2007,"v":-3.2,"t":"3.2","lo":-2.3,"hi":-3.3,"k":"b"},
{"yr":2008,"v":-3.3,"t":"3.3","lo":-2.3,"hi":-3.3,"k":"b"},
{"yr":2010,"v":-3.3,"t":"3.3","lo":-2.3,"hi":-3.3,"k":"b"},
{"yr":2011,"v":-4.0,"t":"4","lo":-3.3,"hi":-5.3,"k":"b"},
{"yr":2012,"v":-3.7,"t":"3.7","lo":-3.3,"hi":-5.3,"k":"b"},
{"yr":2013,"v":-3.4,"t":"3.4","lo":-3.3,"hi":-5.3,"k":"b"},
{"yr":2014,"v":-3.3,"t":"3.3","lo":-2.3,"hi":-3.3,"k":"b"},
{"yr":2015,"v":-3.8,"t":"3.8","lo":-3.3,"hi":-5.3,"k":"b"},
{"yr":2016,"v":-3.9,"t":"3.9","lo":-3.3,"hi":-5.3,"k":"g"},
{"yr":2017,"v":-3.9,"t":"3.9","lo":-3.3,"hi":-5.3,"k":"b"},
{"yr":2018,"v":-4.8,"t":"4.8","lo":-3.3,"hi":-5.3,"k":"b"},
{"yr":2019,"v":-4.8,"t":"4.8","lo":-3.3,"hi":-5.3,"k":"b"},
{"yr":2020,"v":-4.9,"t":"4.9","lo":-3.3,"hi":-5.3,"k":"b"},
{"yr":2021,"v":-4.4,"t":"4.4","lo":-3.3,"hi":-5.3,"k":"b"},
{"yr":2022,"v":-5.2,"t":"5.2","lo":-3.3,"hi":-5.3,"k":"b"}
],
"schBar": [
{"yr":1998,"v":-4.4,"t":"4.4","lo":-4,"hi":-5,"k":"g"},
{"yr":1999,"v":-4.4,"t":"4.4","lo":-4,"hi":-5,"k":"b"},
{"yr":2000,"v":-4.9,"t":"4.9","lo":-4,"hi":-5,"k":"b"},
{"yr":2002,"v":-4.5,"t":"4.5","lo":-4,"hi":-5,"k":"b"},
{"yr":2003,"v":-8.6,"t":"8.6","lo":-7,"hi":-9,"k":"b"},
{"yr":2004,"v":-4.8,"t":"4.8","lo":-4,"hi":-5,"k":"b"},
{"yr":2005,"v":-4.8,"t":"4.8","lo":-4,"hi":-5,"k":"b"},
{"yr":2006,"v":-4.8,"t":"4.8","lo":-4,"hi":-5,"k":"b"},
{"yr":2007,"v":-4.6,"t":"4.6","lo":-4,"hi":-5,"k":"b"},
{"yr":2008,"v":-5.0,"t":"5","lo":-4,"hi":-5,"k":"b"},
{"yr":2009,"v":-7.0,"t":"7","lo":-5,"hi":-7,"k":"b"},
{"yr":2010,"v":-6.7,"t":"6.7","lo":-5,"hi":-7,"k":"g"},
{"yr":2011,"v":-6.7,"t":"6.7","lo":-5,"hi":-7,"k":"g"},
{"yr":2012,"v":-6.8,"t":"6.8","lo":-5,"hi":-7,"k":"b"},
{"yr":2013,"v":-7.4,"t":"7.4","lo":-7,"hi":-10,"k":"b"},
{"yr":2014,"v":-4.8,"t":"4.8","lo":-4,"hi":-5,"k":"b"},
{"yr":2015,"v":-9.9,"t":"9.9","lo":-7,"hi":-10,"k":"b"},
{"yr":2016,"v":-6.7,"t":"6.7","lo":-5,"hi":-7,"k":"b"},
{"yr":2017,"v":-9.2,"t":"9.2","lo":-7,"hi":-10,"k":"b"},
{"yr":2018,"v":-10.4,"t":"10.4","lo":-10,"hi":-11,"k":"g"},
{"yr":2019,"v":-10.5,"t":"10.5","lo":-10,"hi":-11,"k":"b"},
{"yr":2020,"v":-11.1,"t":"11.1","lo":-11,"hi":-13,"k":"b"},
{"yr":2021,"v":-12.2,"t":"12.2","lo":-11,"hi":-13,"k":"b"},
{"yr":2022,"v":-12.8,"t":"12.8","lo":-11,"hi":-13,"k":"g"}
]
},
"vconcat": [
{
"bounds": "flush",
"spacing": 414,
"resolve": {"scale": {"color": "independent"}, "legend": {"color": "independent"}},
"hconcat": [
{
"width": 640, "height": 594,
"title": {"text": "Stockhorn (VS, 3400 m asl)", "anchor": "start", "frame": "group", "dx": -71, "offset": 76, "fontSize": 64, "fontWeight": "bold", "color": "#1a1a1a", "font": "Liberation Sans"},
"data": {"name": "sto"},
"view": {"stroke": "#d9d9d9"},
"encoding": {
"x": {"field": "d", "type": "quantitative", "scale": {"domain": [0, 306], "nice": false, "zero": false},
"axis": {"values": [0,30,61,91,122,153,183,214,244,275], "tickCount": 20, "labelExpr": "datum.value < 15 ? 'Apr' : datum.value < 45 ? 'Mai' : datum.value < 76 ? 'Jun' : datum.value < 106 ? 'Jul' : datum.value < 137 ? 'Aug' : datum.value < 168 ? 'Sep' : datum.value < 198 ? 'Okt' : datum.value < 229 ? 'Nov' : datum.value < 259 ? 'Dez' : 'Jan'", "title": null, "labelFontSize": 20, "labelColor": "#555", "labelFlush": false, "labelOverlap": false, "tickSize": 4, "tickColor": "#bbb", "labelPadding": 4, "domain": false, "grid": true, "gridColor": "#ebebeb"}},
"y": {"field": "v", "type": "quantitative", "scale": {"domain": [-7, 0], "nice": false, "zero": false},
"axis": {"values": [0,-1,-2,-3,-4,-5,-6,-7], "tickCount": 20, "labelExpr": "toString(datum.value)", "title": "Depth (m)", "titleFontSize": 19, "titleFontWeight": "bold", "titleColor": "#222", "titlePadding": 10, "labelFontSize": 19, "labelColor": "#555", "labelOverlap": false, "tickSize": 4, "tickColor": "#bbb", "labelPadding": 5, "domain": false, "grid": true, "gridColor": "#ebebeb"}}
},
"layer": [
{"transform": [{"filter": "datum.s != '2022' && datum.s != 'Mean'"}], "mark": {"type": "line", "strokeWidth": 2.2},
"encoding": {"color": {"field": "s", "type": "nominal",
"scale": {"domain": ["2001","2002","2003","2004","2005","2006","2007","2008","2009","2010","2011","2012","2013","2014","2015","2016","2017","2018","2019","2020","2021","2022","Mean"],
"range": ["#3b7ec2","#4084c4","#468ac6","#4c90c8","#579bcd","#62a6d2","#6bafd5","#73b8d8","#7bc0da","#83c7dc","#8bcedd","#93d3df","#9bd9de","#9edbd6","#9ddbcb","#6cc18c","#70c38f","#73c692","#77c895","#7bcb98","#80ce9c","#bf2a2a","#333333"]},
"legend": {"orient": "none", "legendX": 673, "legendY": 41, "columns": 2, "title": null, "symbolType": "stroke", "symbolSize": 1225, "symbolStrokeWidth": 2.5, "labelFontSize": 20, "labelColor": "#222", "rowPadding": 15, "columnPadding": 6, "labelOffset": 14, "padding": 0, "symbolLimit": 60}}}},
{"transform": [{"filter": "datum.s == '2022' || datum.s == 'Mean'"}], "mark": {"type": "line"},
"encoding": {"color": {"field": "s", "type": "nominal"}, "strokeWidth": {"condition": {"test": "datum.s == 'Mean'", "value": 4.5}, "value": 5}}},
{"transform": [{"filter": "datum.s == 'Mean' && datum.d == 5"}], "mark": {"type": "text", "align": "left", "baseline": "middle", "fontSize": 24, "fontWeight": "bold", "color": "#222"},
"encoding": {"x": {"datum": 25}, "y": {"datum": -6.51}, "text": {"value": "STO_6000"}}}
]
},
{
"width": 640, "height": 594,
"title": {"text": "Schilthorn (BE, 2900 m asl)", "anchor": "start", "frame": "group", "dx": -23, "offset": 76, "fontSize": 64, "fontWeight": "bold", "color": "#1a1a1a", "font": "Liberation Sans"},
"data": {"name": "sch"},
"view": {"stroke": "#d9d9d9"},
"encoding": {
"x": {"field": "d", "type": "quantitative", "scale": {"domain": [0, 306], "nice": false, "zero": false},
"axis": {"values": [0,30,61,91,122,153,183,214,244,275], "tickCount": 20, "labelExpr": "datum.value < 15 ? 'Apr' : datum.value < 45 ? 'Mai' : datum.value < 76 ? 'Jun' : datum.value < 106 ? 'Jul' : datum.value < 137 ? 'Aug' : datum.value < 168 ? 'Sep' : datum.value < 198 ? 'Okt' : datum.value < 229 ? 'Nov' : datum.value < 259 ? 'Dez' : 'Jan'", "title": null, "labelFontSize": 20, "labelColor": "#555", "labelFlush": false, "labelOverlap": false, "tickSize": 4, "tickColor": "#bbb", "labelPadding": 4, "domain": false, "grid": true, "gridColor": "#ebebeb"}},
"y": {"field": "v", "type": "quantitative", "scale": {"domain": [-14, 0], "nice": false, "zero": false},
"axis": {"values": [0,-2,-4,-6,-8,-10,-12,-14], "tickCount": 20, "labelExpr": "toString(datum.value)", "title": "Depth (m)", "titleFontSize": 19, "titleFontWeight": "bold", "titleColor": "#222", "titlePadding": 4, "labelFontSize": 19, "labelColor": "#555", "labelOverlap": false, "tickSize": 4, "tickColor": "#bbb", "labelPadding": 5, "domain": false, "grid": true, "gridColor": "#ebebeb"}}
},
"layer": [
{"transform": [{"filter": "datum.s != '2022' && datum.s != 'Mean'"}], "mark": {"type": "line", "strokeWidth": 2.2},
"encoding": {"color": {"field": "s", "type": "nominal",
"scale": {"domain": ["1998","1999","2000","2001","2002","2003","2004","2005","2006","2007","2008","2009","2010","2011","2012","2013","2014","2015","2016","2017","2018","2019","2020","2021","2022","Mean"],
"range": ["#3a7bbf","#3e80c2","#4385c4","#4889c6","#4d8ec8","#5293ca","#5999cd","#5fa0cf","#66a8d2","#6db0d5","#75b9d8","#7dc1da","#86c9dc","#8fd0dc","#94d4d8","#99d7d2","#9ad9c9","#8cd2b3","#7dcb9f","#74c695","#6fc48f","#71c591","#75c793","#7aca96","#bf2a2a","#333333"]},
"legend": {"orient": "none", "legendX": 671, "legendY": 19, "columns": 2, "title": null, "symbolType": "stroke", "symbolSize": 1225, "symbolStrokeWidth": 2.5, "labelFontSize": 20, "labelColor": "#222", "rowPadding": 15, "columnPadding": 6, "labelOffset": 14, "padding": 0, "symbolLimit": 60}}}},
{"transform": [{"filter": "datum.s == '2022' || datum.s == 'Mean'"}], "mark": {"type": "line"},
"encoding": {"color": {"field": "s", "type": "nominal"}, "strokeWidth": {"condition": {"test": "datum.s == 'Mean'", "value": 4.5}, "value": 5}}},
{"transform": [{"filter": "datum.s == 'Mean' && datum.d == 4"}], "mark": {"type": "text", "align": "left", "baseline": "middle", "fontSize": 24, "fontWeight": "bold", "color": "#222"},
"encoding": {"x": {"datum": 28}, "y": {"datum": -13.55}, "text": {"value": "SCH_5198"}}}
]
}
]
},
{
"bounds": "flush",
"spacing": 0,
"hconcat": [
{"width": 39, "height": 1, "data": {"values": [{"a": 1}]}, "mark": "point", "encoding": {"opacity": {"value": 0}}, "view": {"stroke": null}},
{
"width": 820, "height": 397,
"data": {"name": "stoBar"},
"view": {"stroke": "#d8cfc8", "strokeWidth": 1.5},
"encoding": {
"x": {"field": "yr", "type": "quantitative", "scale": {"domain": [2000.25, 2022.8], "nice": false, "zero": false},
"axis": {"values": [2001,2005,2009,2013,2017,2021], "tickCount": 20, "labelExpr": "toString(datum.value)", "title": null, "labelFontSize": 24, "labelColor": "#333", "labelFlush": false, "labelOverlap": false, "ticks": false, "labelPadding": 16, "domain": false, "grid": false}}
},
"layer": [
{"mark": {"type": "bar", "width": 32.5},
"encoding": {"y": {"field": "v", "type": "quantitative", "scale": {"domain": [-5.9, 0], "nice": false, "zero": false},
"axis": {"values": [-0.3,-0.8,-1.3,-1.8,-2.3,-3.3,-5.3], "tickCount": 20, "labelExpr": "toString(datum.value)", "title": "Depth / m", "titleFontSize": 22, "titleFontWeight": "bold", "titleColor": "#222", "titlePadding": 29, "labelFontSize": 24, "labelColor": "#333", "labelOverlap": false, "tickSize": 6, "tickColor": "#ccc", "labelPadding": 9, "domain": false, "grid": true, "gridDash": [2, 5], "gridColor": "#c9b4a8", "gridWidth": 1.5}},
"y2": {"datum": 0},
"color": {"condition": {"test": "datum.k == 'g'", "value": "#c3c3c3"}, "value": "#4a9bc7"}}},
{"mark": {"type": "rule", "strokeWidth": 1.5},
"encoding": {"y": {"field": "lo", "type": "quantitative"}, "y2": {"field": "hi"}, "color": {"condition": {"test": "datum.k == 'g'", "value": "#4d4d4d"}, "value": "#86d7df"}}},
{"mark": {"type": "tick", "orient": "horizontal", "size": 9, "thickness": 2},
"encoding": {"y": {"field": "lo", "type": "quantitative"}, "color": {"condition": {"test": "datum.k == 'g'", "value": "#4d4d4d"}, "value": "#86d7df"}}},
{"mark": {"type": "tick", "orient": "horizontal", "size": 9, "thickness": 2},
"encoding": {"y": {"field": "hi", "type": "quantitative"}, "color": {"condition": {"test": "datum.k == 'g'", "value": "#4d4d4d"}, "value": "#86d7df"}}},
{"mark": {"type": "text", "angle": 270, "fontSize": 24, "align": "center", "baseline": "middle"},
"encoding": {"y": {"datum": -0.59}, "text": {"field": "t"}, "color": {"condition": {"test": "datum.k == 'g'", "value": "#4d4d4d"}, "value": "#a9e3ea"}}}
]
},
{"width": 237, "height": 1, "data": {"values": [{"a": 1}]}, "mark": "point", "encoding": {"opacity": {"value": 0}}, "view": {"stroke": null}},
{
"width": 827, "height": 391,
"data": {"name": "schBar"},
"view": {"stroke": "#d8cfc8", "strokeWidth": 1.5},
"encoding": {
"x": {"field": "yr", "type": "quantitative", "scale": {"domain": [1997.3, 2022.75], "nice": false, "zero": false},
"axis": {"values": [2000,2005,2010,2015,2020], "tickCount": 20, "labelExpr": "toString(datum.value)", "title": null, "labelFontSize": 24, "labelColor": "#333", "labelFlush": false, "labelOverlap": false, "ticks": false, "labelPadding": 11, "domain": false, "grid": false}}
},
"layer": [
{"mark": {"type": "bar", "width": 28.5},
"encoding": {"y": {"field": "v", "type": "quantitative", "scale": {"domain": [-14, 0], "nice": false, "zero": false},
"axis": {"values": [0,-1,-2,-3,-4,-5,-7,-9,-10,-11,-13], "tickCount": 30, "labelExpr": "toString(datum.value)", "title": "Depth (m)", "titleFontSize": 22, "titleFontWeight": "bold", "titleColor": "#222", "titlePadding": 28, "labelFontSize": 24, "labelColor": "#333", "labelOverlap": false, "tickSize": 6, "tickColor": "#ccc", "labelPadding": 12, "domain": false, "grid": true, "gridDash": [2, 5], "gridColor": "#c9b4a8", "gridWidth": 1.5, "gridOpacity": {"condition": {"test": "datum.value > -3.5", "value": 0}, "value": 1}}},
"y2": {"datum": 0},
"color": {"condition": {"test": "datum.k == 'g'", "value": "#c3c3c3"}, "value": "#4a9bc7"}}},
{"mark": {"type": "rule", "strokeWidth": 1.5},
"encoding": {"y": {"field": "lo", "type": "quantitative"}, "y2": {"field": "hi"}, "color": {"condition": {"test": "datum.k == 'g'", "value": "#4d4d4d"}, "value": "#86d7df"}}},
{"mark": {"type": "tick", "orient": "horizontal", "size": 9, "thickness": 2},
"encoding": {"y": {"field": "lo", "type": "quantitative"}, "color": {"condition": {"test": "datum.k == 'g'", "value": "#4d4d4d"}, "value": "#86d7df"}}},
{"mark": {"type": "tick", "orient": "horizontal", "size": 9, "thickness": 2},
"encoding": {"y": {"field": "hi", "type": "quantitative"}, "color": {"condition": {"test": "datum.k == 'g'", "value": "#4d4d4d"}, "value": "#86d7df"}}},
{"mark": {"type": "text", "angle": 270, "fontSize": 24, "align": "center", "baseline": "middle"},
"encoding": {"y": {"datum": -1.6}, "text": {"field": "t"}, "color": {"condition": {"test": "datum.k == 'g'", "value": "#4d4d4d"}, "value": "#a9e3ea"}}}
]
}
]
}
]
}
